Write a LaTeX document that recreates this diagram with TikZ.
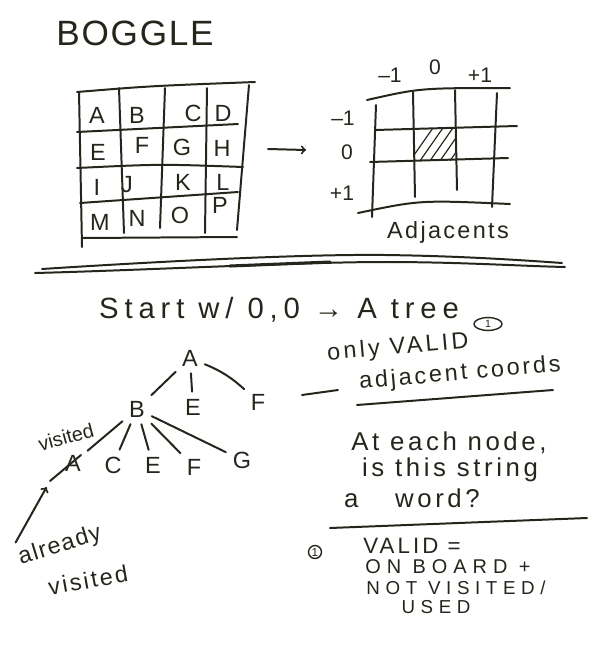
\documentclass[tikz,border=0pt]{standalone}
\usepackage{fontspec}
\setmainfont{Liberation Sans}
\usepackage{tikz}
\usetikzlibrary{arrows,shapes.geometric}
\definecolor{ink}{HTML}{23271B}

\begin{document}
\begin{tikzpicture}[x=0.03cm,y=-0.03cm,color=ink,line width=1.7pt,line cap=round,line join=round,
    every node/.style={text=ink,font=\fontsize{20}{22}\selectfont},
    title/.style={font=\fontsize{30}{32}\selectfont\addfontfeature{LetterSpace=5}},
    note/.style={font=\fontsize{22}{24}\selectfont\addfontfeature{LetterSpace=14}},
    caps/.style={font=\fontsize{16}{18}\selectfont\addfontfeature{LetterSpace=30}},
    tiny/.style={font=\fontsize{17}{19}\selectfont},
    label/.style={font=\fontsize{18}{20}\selectfont},
    foot/.style={draw,circle,inner sep=0.8pt,line width=1.2pt,font=\fontsize{10}{11}\selectfont},
    twig/.style={shorten >=2pt,shorten <=2pt}]
  \useasboundingbox (0,0) rectangle (600,661);

    \draw (135,33) node[title] (boggle) {BOGGLE};

    \draw (77,92) .. controls (150,86) .. (255,82);
    \draw (77,132) -- (238,124);
    \draw (77,168) .. controls (160,164) .. (243,167);
    \draw (80,203) -- (238,192);
    \draw (82,238) -- (237,237);
    \draw (79,92) -- (82,247);
    \draw (119,88) -- (124,233);
    \draw (165,88) -- (160,228);
    \draw (207,88) -- (205,233);
    \draw (249,85) -- (237,230);

    \draw (97,115) node (cA) {A};
    \draw (137,115) node (cB) {B};
    \draw (193,113) node (cC) {C};
    \draw (223,113) node (cD) {D};
    \draw (98,152) node (cE) {E};
    \draw (142,145) node (cF) {F};
    \draw (182,147) node (cG) {G};
    \draw (222,148) node (cH) {H};
    \draw (97,187) node (cI) {I};
    \draw (127,185) node (cJ) {J};
    \draw (183,182) node (cK) {K};
    \draw (223,182) node (cL) {L};
    \draw (100,222) node (cM) {M};
    \draw (137,218) node (cN) {N};
    \draw (180,215) node (cO) {O};
    \draw (220,205) node (cP) {P};

    \coordinate (boardE) at (268,149);
    \coordinate (adjW) at (306,150);
    \draw[->] (boardE) -- (adjW);

    \draw (367,100) .. controls (420,88) .. (510,88);
    \draw (375,130) -- (517,126);
    \draw (370,162) -- (508,158);
    \draw (358,213) .. controls (420,200) .. (510,204);
    \draw (376,105) -- (372,217);
    \draw (413,92) -- (415,197);
    \draw (455,90) -- (457,190);
    \draw (497,93) -- (492,207);
    \begin{scope}
      \clip (414,129) rectangle (456,160);
      \foreach \h in {0,10,20,30,40}
        \draw[line width=1pt] (405+\h,168) -- (435+\h,125);
    \end{scope}

    \draw (390,75) node[label] (colm) {–1};
    \draw (435,67) node[label] (colz) {0};
    \draw (480,75) node[label] (colp) {+1};
    \draw (343,118) node[label] (rowm) {–1};
    \draw (347,152) node[label] (rowz) {0};
    \draw (342,193) node[label] (rowp) {+1};
    \draw (448,232) node[font=\fontsize{20}{22}\selectfont\addfontfeature{LetterSpace=10}] (adj) {Adjacents};

    \draw (42,269) .. controls (150,262) and (300,254) .. (385,255) .. controls (460,256) and (520,260) .. (562,263);
    \draw (35,273) .. controls (150,270) and (300,262) .. (385,262) .. controls (460,262) and (520,266) .. (565,267);
    \draw[line width=2.6pt] (230,266) -- (330,262);

    \draw (279,310) node[font=\fontsize{25}{27}\selectfont\addfontfeature{LetterSpace=20}] (start) {Start w/ 0,0 → A tree};

    \draw (190,358) node (root) {A};
    \draw (137,409) node (b) {B};
    \draw (193,407) node (e) {E};
    \draw (258,402) node (f) {F};
    \draw (73,463) node (ba) {A};
    \draw (113,465) node (bc) {C};
    \draw (153,465) node (be) {E};
    \draw (194,467) node (bf) {F};
    \draw (242,460) node (bg) {G};

     \path[-] (root) edge[twig] (b);
     \path[-] (root) edge[twig] (e);
     \path[-] (root) edge[twig,bend left=10] (f);
     \path[-] (b) edge[twig] (ba);
     \path[-] (b) edge[twig] (bc);
     \path[-] (b) edge[twig] (be);
     \path[-] (b) edge[twig] (bf);
     \path[-] (b) edge[twig] (bg);

    \draw (66,437) node[tiny,rotate=15,inner sep=1pt] (visited) {visited};
    \coordinate (strike) at (50,481);
    \draw ([shift={(8,-8)}]ba.center) -- (strike);
    \draw (60,546) node[rotate=17,inner sep=1pt,font=\fontsize{20}{22}\selectfont\addfontfeature{LetterSpace=6}] (already) {already};
    \draw (88,580) node[rotate=10,inner sep=1pt,font=\fontsize{20}{22}\selectfont\addfontfeature{LetterSpace=10}] (visited2) {visited};
    \draw[->,shorten >=6pt,shorten <=4pt] (already.north west) -- (strike);

    \draw (488,324) node[draw,ellipse,inner sep=0pt,minimum width=24pt,minimum height=11pt,line width=1.2pt,font=\fontsize{9}{10}\selectfont] (one) {1};
    \draw (398,348) node[rotate=5,font=\fontsize{20}{22}\selectfont\addfontfeature{LetterSpace=14}] (only) {only VALID};
    \draw (460,374) node[rotate=5,font=\fontsize{20}{22}\selectfont\addfontfeature{LetterSpace=12}] (coords) {adjacent coords};
    \draw (302,395) -- (338,390);
    \draw (357,405) -- (553,390);

    \draw (449,443) node[note] (each) {At each node,};
    \draw (450,470) node[note] (string) {is this string};
    \draw (412,498) node[note] (word) {a \quad word?};
    \draw (330,528) -- (587,518);

    \draw (315,552) node[foot] (onefoot) {1};
    \draw (412,546) node[font=\fontsize{19}{21}\selectfont\addfontfeature{LetterSpace=14}] (valid) {VALID =};
    \draw (448,567) node[caps,font=\fontsize{17}{19}\selectfont\addfontfeature{LetterSpace=30}] (board) {ON BOARD +};
    \draw (456,588) node[caps] (notv) {NOT VISITED/};
    \draw (436,607) node[caps] (used) {USED};

\end{tikzpicture}
\end{document}
